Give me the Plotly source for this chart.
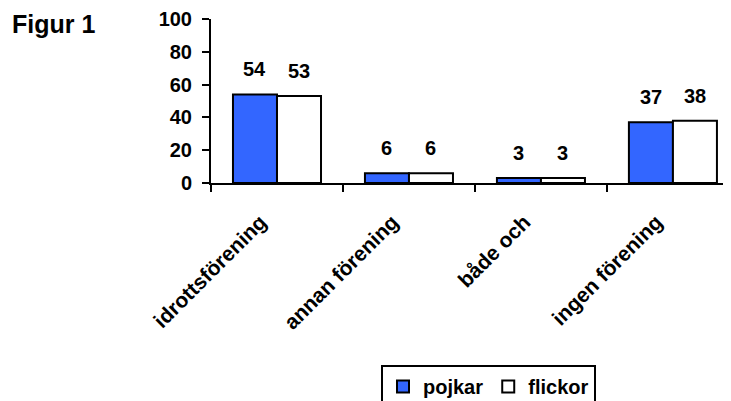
import plotly.graph_objects as go

categories = ["idrottsförening", "annan förening", "både och", "ingen förening"]
pojkar = [54, 6, 3, 37]
flickor = [53, 6, 3, 38]
y_ticks = [0, 20, 40, 60, 80, 100]

FONT = "Liberation Sans, Arial, sans-serif"
BLUE = "#3366FF"

# page body adds an 8px offset; compensate in margins
L, T, PW, PH = 203, 11, 520, 164
W, H = 723, 393

fig = go.Figure()
fig.add_trace(go.Bar(name="pojkar", x=categories, y=pojkar,
                     marker=dict(color=BLUE, line=dict(color="black", width=2))))
fig.add_trace(go.Bar(name="flickor", x=categories, y=flickor,
                     marker=dict(color="white", line=dict(color="black", width=2))))

for series, shift in ((pojkar, -22), (flickor, 22)):
    for c, v in zip(categories, series):
        fig.add_annotation(x=c, y=v, text=str(v), showarrow=False,
                           xshift=shift, yanchor="bottom", yshift=12,
                           font=dict(family=FONT, size=20, color="black", weight="bold"))

fig.add_annotation(xref="paper", yref="paper", x=(2 - L) / PW, y=1 - 5 / PH,
                   xanchor="left", yanchor="middle", text="Figur 1", showarrow=False,
                   font=dict(family=FONT, size=25, color="black", weight="bold"))

fig.update_layout(
    width=W, height=H,
    margin=dict(l=L, r=0, t=T, b=H - T - PH, autoexpand=False),
    paper_bgcolor="white", plot_bgcolor="white",
    barmode="group", bargap=0.333, bargroupgap=0,
    showlegend=True,
    legend=dict(orientation="h", x=170 / PW, xanchor="left",
                y=-(365 - 183) / PH, yanchor="top",
                bordercolor="black", borderwidth=2, bgcolor="white",
                font=dict(family=FONT, size=20, color="black", weight="bold"),
                itemwidth=30, traceorder="normal"),
    xaxis=dict(range=[-0.5, 3.44], showline=True, linecolor="black", linewidth=2,
               ticks="outside", tickson="boundaries", ticklen=7, tickwidth=2,
               tickcolor="black", tickangle=-45, showgrid=False, ticklabelstandoff=0,
               tickvals=categories, ticktext=[c + "\u00a0" * 4 for c in categories],
               tickfont=dict(family=FONT, size=21, color="black", weight="bold")),
    yaxis=dict(range=[0, 100], tickvals=y_ticks, showline=True, linecolor="black",
               linewidth=2, ticks="outside", ticklen=7, tickwidth=2, tickcolor="black",
               showgrid=False, zeroline=False, ticklabelstandoff=6,
               tickfont=dict(family=FONT, size=20, color="black", weight="bold")),
)

fig.write_html("out.html")
